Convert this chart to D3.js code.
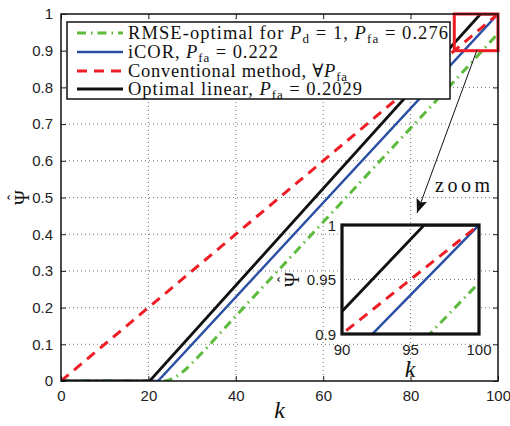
<!DOCTYPE html>
<html>
<head>
<meta charset="utf-8">
<script src="https://cdnjs.cloudflare.com/ajax/libs/d3/7.8.5/d3.min.js"></script>
<style>
  html, body { margin: 0; padding: 0; background: #fff; }
  svg { display: block; }
  .tick-label { font-family: "Liberation Sans", Arial, sans-serif; font-size: 15px; fill: #222; }
  .serif { font-family: "Liberation Serif", "DejaVu Serif", serif; fill: #111; }
</style>
</head>
<body>
<svg id="chart" width="510" height="426"></svg>
<script>
// ---- data ----
const xTicks = [0, 20, 40, 60, 80, 100];
const yTicks = [0, 0.1, 0.2, 0.3, 0.4, 0.5, 0.6, 0.7, 0.8, 0.9, 1];
const yTickLabels = ['0', '0.1', '0.2', '0.3', '0.4', '0.5', '0.6', '0.7', '0.8', '0.9', '1'];
const insetXTicks = [90, 95, 100];
const insetYTicks = [0.9, 0.95, 1];
const insetYTickLabels = ['0.9', '0.95', '1'];

// RMSE-optimal for Pd = 1, Pfa = 0.276 (green dash-dot)
const rmseK   = [0, 23, 24, 25, 26, 27, 28, 30, 40, 50, 60, 70, 80, 90, 100];
const rmsePsi = [0, 0, 0.001, 0.004, 0.010, 0.017, 0.026, 0.049, 0.177, 0.305, 0.433, 0.561, 0.689, 0.817, 0.947];
// iCOR, Pfa = 0.222 (blue)
const icorK   = [0, 22.2, 100];
const icorPsi = [0, 0, 1];
// Conventional method (red dashed)
const convK   = [0, 100];
const convPsi = [0, 1];
// Optimal linear, Pfa = 0.2029 (black)
const optK    = [0, 20.29, 96, 100];
const optPsi  = [0, 0, 1, 1];

const series = [
  { k: rmseK, psi: rmsePsi, color: '#5cbb3c', width: 3, dash: '9,5,1.5,5' },
  { k: icorK, psi: icorPsi, color: '#2c4fa6', width: 2.5, dash: null },
  { k: convK, psi: convPsi, color: '#ee1d25', width: 3, dash: '10,7' },
  { k: optK,  psi: optPsi,  color: '#111111', width: 2.8, dash: null },
];

const svg = d3.select('#chart');
const M = { left: 61, right: 498, top: 14, bottom: 381 };

const x = d3.scaleLinear().domain([0, 100]).range([M.left, M.right]);
const y = d3.scaleLinear().domain([0, 1]).range([M.bottom, M.top]);

const defs = svg.append('defs');
defs.append('clipPath').attr('id', 'clip-main').append('rect')
  .attr('x', M.left).attr('y', M.top)
  .attr('width', M.right - M.left).attr('height', M.bottom - M.top);

svg.append('rect').attr('width', 510).attr('height', 426).attr('fill', '#fff');

// grid
const grid = svg.append('g').attr('stroke', '#777').attr('stroke-width', 1).attr('stroke-dasharray', '1,3');
grid.selectAll('.gx').data(xTicks.slice(1, -1)).join('line')
  .attr('x1', d => x(d)).attr('x2', d => x(d)).attr('y1', M.top).attr('y2', M.bottom);
grid.selectAll('.gy').data(yTicks.slice(1, -1)).join('line')
  .attr('y1', d => y(d)).attr('y2', d => y(d)).attr('x1', M.left).attr('x2', M.right);

// curves
function drawSeries(g, xs, ys) {
  series.forEach(s => {
    const pts = s.k.map((k, i) => [k, s.psi[i]]);
    const line = d3.line().x(d => xs(d[0])).y(d => ys(d[1]))
      .curve(s.k.length > 4 ? d3.curveMonotoneX : d3.curveLinear);
    g.append('path').datum(pts)
      .attr('d', line)
      .attr('fill', 'none')
      .attr('stroke', s.color)
      .attr('stroke-width', s.width)
      .attr('stroke-dasharray', s.dash);
  });
}
drawSeries(svg.append('g').attr('clip-path', 'url(#clip-main)'), x, y);

// axes frame + inward ticks
const axisG = svg.append('g');
axisG.append('g').attr('transform', `translate(0,${M.bottom})`)
  .call(d3.axisBottom(x).tickValues(xTicks).tickSize(-5).tickSizeOuter(0).tickPadding(9))
  .call(g => g.select('.domain').remove());
axisG.append('g').attr('transform', `translate(0,${M.top})`)
  .call(d3.axisTop(x).tickValues(xTicks).tickSize(-5).tickSizeOuter(0).tickFormat(''))
  .call(g => g.select('.domain').remove());
axisG.append('g').attr('transform', `translate(${M.left},0)`)
  .call(d3.axisLeft(y).tickValues(yTicks).tickSize(-5).tickSizeOuter(0).tickPadding(8)
    .tickFormat((d, i) => yTickLabels[i]))
  .call(g => g.select('.domain').remove());
axisG.append('g').attr('transform', `translate(${M.right},0)`)
  .call(d3.axisRight(y).tickValues(yTicks).tickSize(-5).tickSizeOuter(0).tickFormat(''))
  .call(g => g.select('.domain').remove());
axisG.selectAll('.tick line').attr('stroke', '#222');
axisG.selectAll('.tick text').attr('class', 'tick-label').attr('font-family', null).attr('font-size', null);

// axis labels
svg.append('text').attr('class', 'serif')
  .attr('x', (M.left + M.right) / 2).attr('y', 418)
  .attr('text-anchor', 'middle').attr('font-size', 24).attr('font-style', 'italic').text('k');
const yl = svg.append('g').attr('transform', `translate(29,${(M.top + M.bottom) / 2}) rotate(-90)`);
yl.append('text').attr('class', 'serif').attr('text-anchor', 'middle').attr('font-size', 20).text('Ψ');
yl.append('text').attr('class', 'serif').attr('text-anchor', 'middle').attr('y', -10).attr('font-size', 16).text('ˆ');

// legend
const legendItems = [
  { width: 320, parts: [['RMSE-optimal for ', ''], ['P', 'i'], ['d', 's'], [' = 1, ', ''], ['P', 'i'], ['fa', 's'], [' = 0.276', '']] },
  { width: 150, parts: [['iCOR, ', ''], ['P', 'i'], ['fa', 's'], [' = 0.222', '']] },
  { width: 219, parts: [['Conventional method, ∀', ''], ['P', 'i'], ['fa', 's']] },
  { width: 234, parts: [['Optimal linear, ', ''], ['P', 'i'], ['fa', 's'], [' = 0.2029', '']] },
];
const lg = svg.append('g');
lg.append('rect').attr('x', 67).attr('y', 22).attr('width', 383).attr('height', 77)
  .attr('fill', '#fff').attr('stroke', '#111').attr('stroke-width', 1.5);
const rowY = [33, 52, 71, 89];
legendItems.forEach((item, i) => {
  const s = series[i];
  lg.append('line').attr('x1', 77).attr('x2', 123).attr('y1', rowY[i]).attr('y2', rowY[i])
    .attr('stroke', s.color).attr('stroke-width', s.width).attr('stroke-dasharray', s.dash);
  const t = lg.append('text').attr('class', 'serif').attr('x', 128).attr('y', rowY[i] + 6)
    .attr('font-size', 18.5).attr('textLength', item.width).attr('lengthAdjust', 'spacing');
  item.parts.forEach(([txt, kind], j) => {
    const ts = t.append('tspan').text(txt);
    if (kind === 'i') ts.attr('font-style', 'italic');
    if (kind === 's') ts.attr('font-size', 13).attr('dy', 4);
    else if (j > 0 && item.parts[j - 1][1] === 's') ts.attr('dy', -4);
  });
});

// red zoom rectangle
svg.append('rect').attr('x', x(90)).attr('y', y(1)).attr('width', x(100) - x(90)).attr('height', y(0.9) - y(1))
  .attr('fill', 'none').attr('stroke', '#ee1d25').attr('stroke-width', 3);

// arrow
defs.append('marker').attr('id', 'arrowhead').attr('viewBox', '0 -5 10 10')
  .attr('refX', 10).attr('refY', 0).attr('markerWidth', 14).attr('markerHeight', 14)
  .attr('markerUnits', 'userSpaceOnUse').attr('orient', 'auto')
  .append('path').attr('d', 'M0,-4L10,0L0,4L2,0Z').attr('fill', '#111');
svg.append('line').attr('x1', 477).attr('y1', 50).attr('x2', 417).attr('y2', 213)
  .attr('stroke', '#111').attr('stroke-width', 1).attr('marker-end', 'url(#arrowhead)');
svg.append('text').attr('class', 'serif').attr('x', 435).attr('y', 192)
  .attr('font-size', 20).attr('textLength', 55).attr('lengthAdjust', 'spacing').text('zoom');

// inset
const I = { left: 342, right: 479, top: 225, bottom: 334 };
const xi = d3.scaleLinear().domain([90, 100]).range([I.left, I.right]);
const yi = d3.scaleLinear().domain([0.9, 1]).range([I.bottom, I.top]);
defs.append('clipPath').attr('id', 'clip-inset').append('rect')
  .attr('x', I.left).attr('y', I.top).attr('width', I.right - I.left).attr('height', I.bottom - I.top);

const ig = svg.append('g');
ig.append('rect').attr('x', I.left).attr('y', I.top).attr('width', I.right - I.left).attr('height', I.bottom - I.top)
  .attr('fill', '#fff');
ig.append('line').attr('x1', xi(95)).attr('x2', xi(95)).attr('y1', I.top).attr('y2', I.bottom)
  .attr('stroke', '#777').attr('stroke-dasharray', '1,3');
ig.append('line').attr('y1', yi(0.95)).attr('y2', yi(0.95)).attr('x1', I.left).attr('x2', I.right)
  .attr('stroke', '#777').attr('stroke-dasharray', '1,3');
drawSeries(ig.append('g').attr('clip-path', 'url(#clip-inset)'), xi, yi);
ig.append('rect').attr('x', I.left).attr('y', I.top).attr('width', I.right - I.left).attr('height', I.bottom - I.top)
  .attr('fill', 'none').attr('stroke', '#111').attr('stroke-width', 3.2);

ig.selectAll('.ixl').data(insetXTicks).join('text').attr('class', 'tick-label')
  .attr('x', d => xi(d)).attr('y', 355).attr('text-anchor', 'middle').text(d => d);
ig.selectAll('.iyl').data(insetYTicks).join('text').attr('class', 'tick-label')
  .attr('x', 336).attr('y', d => yi(d) + 5.5).attr('text-anchor', 'end').text((d, i) => insetYTickLabels[i]);
ig.append('text').attr('class', 'serif').attr('x', 410).attr('y', 377)
  .attr('text-anchor', 'middle').attr('font-size', 24).attr('font-style', 'italic').text('k');
const iyl = ig.append('g').attr('transform', `translate(299,${(I.top + I.bottom) / 2}) rotate(-90)`);
iyl.append('text').attr('class', 'serif').attr('text-anchor', 'middle').attr('font-size', 20).text('Ψ');
iyl.append('text').attr('class', 'serif').attr('text-anchor', 'middle').attr('y', -10).attr('font-size', 16).text('ˆ');

// main frame last
svg.append('rect').attr('x', M.left).attr('y', M.top).attr('width', M.right - M.left).attr('height', M.bottom - M.top)
  .attr('fill', 'none').attr('stroke', '#111').attr('stroke-width', 1.5);
</script>
</body>
</html>
